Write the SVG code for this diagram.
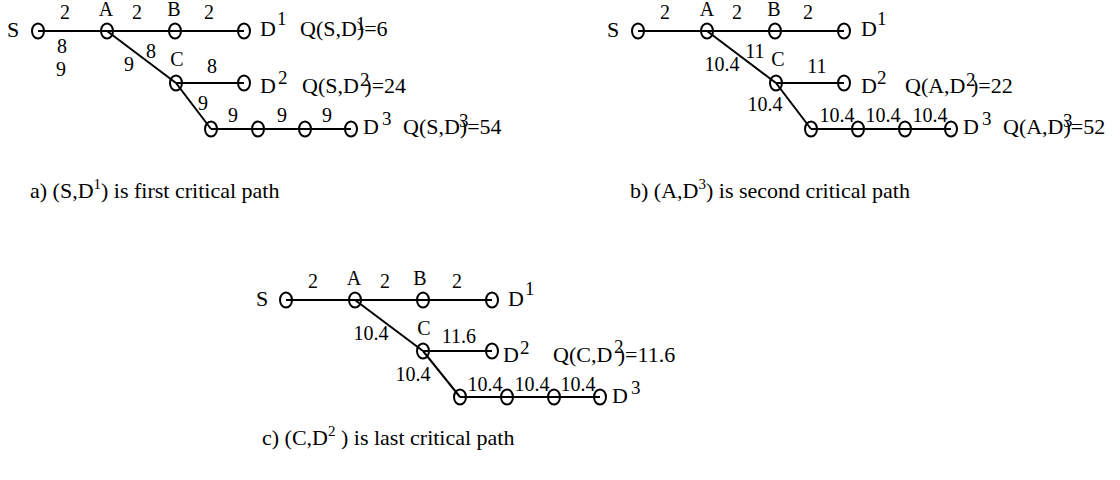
<svg xmlns="http://www.w3.org/2000/svg" width="1120" height="480" viewBox="0 0 1120 480">
<style>
text{font-family:"Liberation Serif","Times New Roman",serif;fill:#000}
.n{font-size:22px}
.e{font-size:20px;text-anchor:middle}
.l{font-size:20px;text-anchor:middle}
.s{font-size:19px}
.cap{font-size:22px}
.nd{fill:none;stroke:#000;stroke-width:2}
.cn line{stroke:#000;stroke-width:2}
</style>
<defs>
<ellipse id="o" cx="0" cy="0" rx="6" ry="7.5" class="nd"/>
</defs>
<rect width="1120" height="480" fill="#fff"/>

<!-- Panel a -->
<g id="a-connectors" class="cn">
<line x1="38" y1="31" x2="244" y2="31"/>
<line x1="107" y1="31" x2="176" y2="83"/>
<line x1="176" y1="83" x2="244" y2="83"/>
<line x1="176" y1="83" x2="211" y2="129"/>
<line x1="211" y1="129" x2="351" y2="129"/>
</g>
<g id="a-S"><use href="#o" x="38" y="31"/><text class="n" x="7" y="37">S</text></g>
<g id="a-A"><use href="#o" x="107" y="31"/><text class="l" x="106" y="16">A</text></g>
<g id="a-B"><use href="#o" x="175" y="31"/><text class="l" x="174" y="16">B</text></g>
<g id="a-D1"><use href="#o" x="244" y="31"/><text class="n" x="260" y="36">D</text><text class="s" x="277" y="25">1</text></g>
<g id="a-C"><use href="#o" x="176" y="83"/><text class="l" x="177" y="66">C</text></g>
<g id="a-D2"><use href="#o" x="244" y="83"/><text class="n" x="260" y="93">D</text><text class="s" x="278" y="84">2</text></g>
<g id="a-E1"><use href="#o" x="211" y="129"/></g>
<g id="a-E2"><use href="#o" x="258" y="129"/></g>
<g id="a-E3"><use href="#o" x="305" y="129"/></g>
<g id="a-D3"><use href="#o" x="351" y="129"/><text class="n" x="363" y="134">D</text><text class="s" x="382" y="125">3</text></g>
<g id="a-labels">
<text class="e" x="65" y="19">2</text>
<text class="e" x="137" y="19">2</text>
<text class="e" x="209" y="19">2</text>
<text class="e" x="62" y="53">8</text>
<text class="e" x="61" y="76">9</text>
<text class="e" x="129" y="71">9</text>
<text class="e" x="151" y="58">8</text>
<text class="e" x="212" y="73">8</text>
<text class="e" x="203" y="110">9</text>
<text class="e" x="233" y="122">9</text>
<text class="e" x="282" y="122">9</text>
<text class="e" x="327" y="122">9</text>
<text class="n" x="300" y="36">Q(S,D)=6</text><text class="s" x="356" y="30">1</text>
<text class="n" x="302" y="93">Q(S,D )=24</text><text class="s" x="360" y="86">2</text>
<text class="n" x="403" y="134">Q(S,D)=54</text><text class="s" x="459" y="127">3</text>
<text class="cap" x="30" y="198">a) (S,D<tspan font-size="15" dy="-9">1</tspan><tspan dy="9">) is first critical path</tspan></text>
</g>

<!-- Panel b -->
<g id="b-connectors" class="cn">
<line x1="638" y1="31" x2="844" y2="31"/>
<line x1="707" y1="31" x2="776" y2="83"/>
<line x1="776" y1="83" x2="844" y2="83"/>
<line x1="776" y1="83" x2="811" y2="129"/>
<line x1="811" y1="129" x2="951" y2="129"/>
</g>
<g id="b-S"><use href="#o" x="638" y="31"/><text class="n" x="607" y="37">S</text></g>
<g id="b-A"><use href="#o" x="707" y="31"/><text class="l" x="707" y="16">A</text></g>
<g id="b-B"><use href="#o" x="775" y="31"/><text class="l" x="774" y="16">B</text></g>
<g id="b-D1"><use href="#o" x="844" y="31"/><text class="n" x="861" y="36">D</text><text class="s" x="877" y="25">1</text></g>
<g id="b-C"><use href="#o" x="776" y="83"/><text class="l" x="778" y="66">C</text></g>
<g id="b-D2"><use href="#o" x="844" y="83"/><text class="n" x="861" y="93">D</text><text class="s" x="877" y="84">2</text></g>
<g id="b-E1"><use href="#o" x="811" y="129"/></g>
<g id="b-E2"><use href="#o" x="858" y="129"/></g>
<g id="b-E3"><use href="#o" x="905" y="129"/></g>
<g id="b-D3"><use href="#o" x="951" y="129"/><text class="n" x="963" y="134">D</text><text class="s" x="982" y="125">3</text></g>
<g id="b-labels">
<text class="e" x="665" y="19">2</text>
<text class="e" x="737" y="19">2</text>
<text class="e" x="808" y="19">2</text>
<text class="e" x="755" y="58">11</text>
<text class="e" x="722" y="71">10.4</text>
<text class="e" x="817" y="73">11</text>
<text class="e" x="765" y="111">10.4</text>
<text class="e" x="837" y="122">10.4</text>
<text class="e" x="883" y="122">10.4</text>
<text class="e" x="930" y="122">10.4</text>
<text class="n" x="905" y="93">Q(A,D )=22</text><text class="s" x="966" y="86">2</text>
<text class="n" x="1003" y="134">Q(A,D)=52</text><text class="s" x="1063" y="127">3</text>
<text class="cap" x="630" y="198">b) (A,D<tspan font-size="15" dy="-9">3</tspan><tspan dy="9">) is second critical path</tspan></text>
</g>

<!-- Panel c -->
<g id="c-connectors" class="cn">
<line x1="286" y1="300" x2="492" y2="300"/>
<line x1="355" y1="300" x2="423" y2="351"/>
<line x1="423" y1="351" x2="492" y2="351"/>
<line x1="423" y1="351" x2="460" y2="397"/>
<line x1="460" y1="397" x2="600" y2="397"/>
</g>
<g id="c-S"><use href="#o" x="286" y="300"/><text class="n" x="256" y="306">S</text></g>
<g id="c-A"><use href="#o" x="355" y="300"/><text class="l" x="354" y="285">A</text></g>
<g id="c-B"><use href="#o" x="423" y="300"/><text class="l" x="420" y="285">B</text></g>
<g id="c-D1"><use href="#o" x="492" y="300"/><text class="n" x="508" y="306">D</text><text class="s" x="525" y="295">1</text></g>
<g id="c-C"><use href="#o" x="423" y="351"/><text class="l" x="424" y="335">C</text></g>
<g id="c-D2"><use href="#o" x="492" y="351"/><text class="n" x="503" y="362">D</text><text class="s" x="520" y="354">2</text></g>
<g id="c-E1"><use href="#o" x="460" y="397"/></g>
<g id="c-E2"><use href="#o" x="507" y="397"/></g>
<g id="c-E3"><use href="#o" x="554" y="397"/></g>
<g id="c-D3"><use href="#o" x="600" y="397"/><text class="n" x="612" y="403">D</text><text class="s" x="631" y="394">3</text></g>
<g id="c-labels">
<text class="e" x="313" y="288">2</text>
<text class="e" x="385" y="288">2</text>
<text class="e" x="457" y="288">2</text>
<text class="e" x="371" y="340">10.4</text>
<text class="e" x="459" y="343">11.6</text>
<text class="e" x="413" y="381">10.4</text>
<text class="e" x="485" y="391">10.4</text>
<text class="e" x="532" y="391">10.4</text>
<text class="e" x="578" y="391">10.4</text>
<text class="n" x="553" y="362">Q(C,D )=11.6</text><text class="s" x="614" y="353">2</text>
<text class="cap" x="262" y="445">c) (C,D<tspan font-size="15" dy="-9">2</tspan><tspan dy="9"> ) is last critical path</tspan></text>
</g>
</svg>
